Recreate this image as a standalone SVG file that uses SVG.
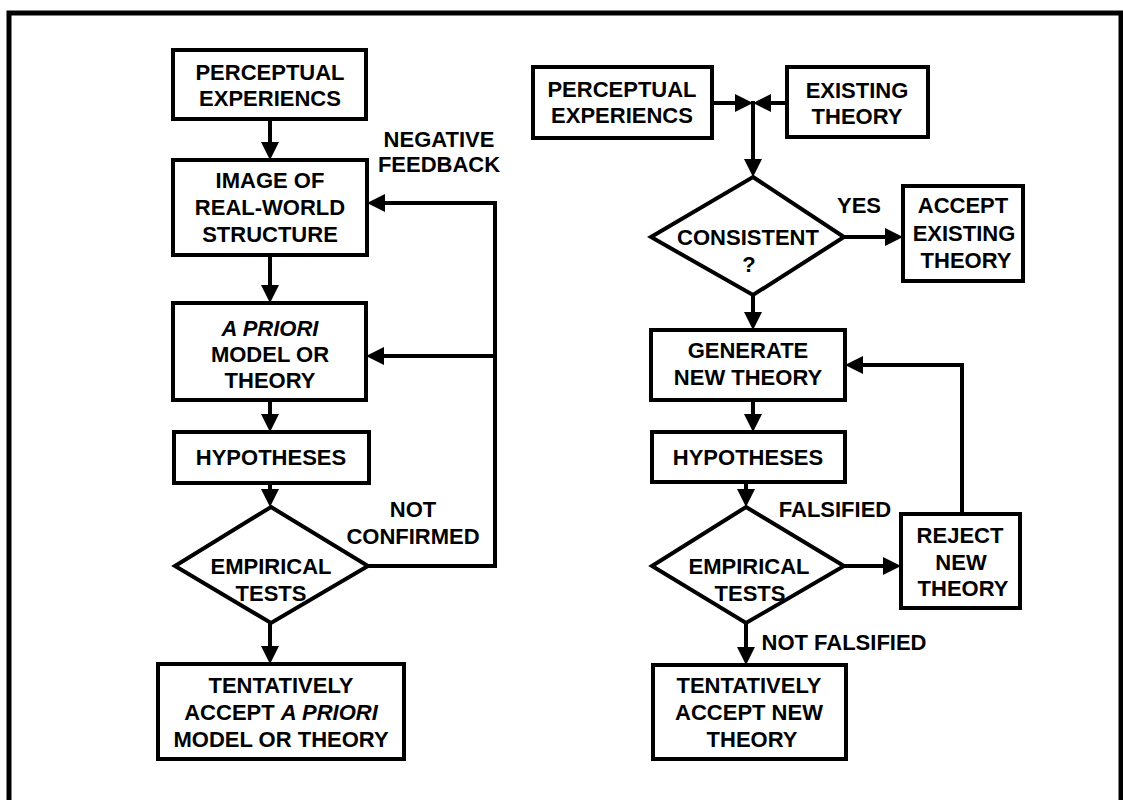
<svg xmlns="http://www.w3.org/2000/svg" width="1123" height="800" viewBox="0 0 1123 800">
<style>
.bx{fill:#fff;stroke:#000;stroke-width:4}
.cn{fill:none;stroke:#000;stroke-width:4}
.fr{fill:none;stroke:#000;stroke-width:5}
text{font-family:"Liberation Sans",Arial,Helvetica,sans-serif;font-weight:bold;font-size:22px;fill:#000;text-anchor:middle}
.it{font-style:italic}
</style>
<defs>
<marker id="ah" markerUnits="userSpaceOnUse" markerWidth="18" markerHeight="18" refX="10" refY="9" orient="auto" viewBox="0 0 18 18">
<path d="M0,0 L18,9 L0,18 z" fill="#000"/>
</marker>
</defs>
<rect width="1123" height="800" fill="#fff"/>
<path class="fr" d="M9,800 V13 H1121 V800"/>

<g id="connectors">
<line class="cn" x1="270" y1="119" x2="270" y2="152" marker-end="url(#ah)"/>
<line class="cn" x1="270" y1="255" x2="270" y2="295" marker-end="url(#ah)"/>
<line class="cn" x1="270" y1="400" x2="270" y2="424" marker-end="url(#ah)"/>
<line class="cn" x1="270" y1="483" x2="270" y2="499" marker-end="url(#ah)"/>
<line class="cn" x1="270" y1="623" x2="270" y2="656" marker-end="url(#ah)"/>
<polyline class="cn" points="368,566 495,566 495,203 375,203" marker-end="url(#ah)"/>
<line class="cn" x1="495" y1="356" x2="374" y2="356" marker-end="url(#ah)"/>

<line class="cn" x1="712" y1="103" x2="745" y2="103" marker-end="url(#ah)"/>
<line class="cn" x1="787" y1="103" x2="761" y2="103" marker-end="url(#ah)"/>
<line class="cn" x1="753" y1="101" x2="753" y2="169" marker-end="url(#ah)"/>
<line class="cn" x1="844" y1="237" x2="895" y2="237" marker-end="url(#ah)"/>
<line class="cn" x1="753" y1="295" x2="753" y2="322" marker-end="url(#ah)"/>
<line class="cn" x1="753" y1="400" x2="753" y2="424" marker-end="url(#ah)"/>
<line class="cn" x1="746" y1="482" x2="746" y2="499" marker-end="url(#ah)"/>
<line class="cn" x1="844" y1="566" x2="893" y2="566" marker-end="url(#ah)"/>
<polyline class="cn" points="962,514 962,365 853,365" marker-end="url(#ah)"/>
<line class="cn" x1="746" y1="623" x2="746" y2="657" marker-end="url(#ah)"/>
</g>

<g id="label-negative-feedback"><text x="439" y="147">NEGATIVE</text><text x="439" y="172">FEEDBACK</text></g>
<g id="label-not-confirmed"><text x="413" y="517">NOT</text><text x="413" y="544">CONFIRMED</text></g>
<g id="label-yes"><text x="859" y="213">YES</text></g>
<g id="label-falsified"><text x="835" y="517">FALSIFIED</text></g>
<g id="label-not-falsified"><text x="844" y="650">NOT FALSIFIED</text></g>

<g id="l-perceptual">
<rect class="bx" x="173" y="50" width="193" height="69"/>
<text x="270" y="80">PERCEPTUAL</text><text x="270" y="106">EXPERIENCS</text>
</g>
<g id="l-image">
<rect class="bx" x="173" y="160" width="194" height="95"/>
<text x="270" y="188">IMAGE OF</text><text x="270" y="215">REAL-WORLD</text><text x="270" y="242">STRUCTURE</text>
</g>
<g id="l-apriori">
<rect class="bx" x="173" y="303" width="193" height="97"/>
<text x="270" y="336" class="it">A PRIORI</text><text x="270" y="362">MODEL OR</text><text x="270" y="388">THEORY</text>
</g>
<g id="l-hypotheses">
<rect class="bx" x="174" y="432" width="195" height="51"/>
<text x="271" y="465">HYPOTHESES</text>
</g>
<g id="l-empirical">
<polygon class="bx" points="271,507 368,566 271,623 175,566"/>
<text x="271" y="574">EMPIRICAL</text><text x="271" y="601">TESTS</text>
</g>
<g id="l-tentative">
<rect class="bx" x="158" y="664" width="246" height="95"/>
<text x="281" y="693">TENTATIVELY</text>
<text x="281" y="720">ACCEPT <tspan class="it">A PRIORI</tspan></text>
<text x="281" y="747">MODEL OR THEORY</text>
</g>

<g id="r-perceptual">
<rect class="bx" x="533" y="67" width="179" height="71"/>
<text x="622" y="97">PERCEPTUAL</text><text x="622" y="123">EXPERIENCS</text>
</g>
<g id="r-existing">
<rect class="bx" x="787" y="67" width="141" height="70"/>
<text x="857" y="98">EXISTING</text><text x="857" y="124">THEORY</text>
</g>
<g id="r-consistent">
<polygon class="bx" points="753,177 844,237 753,295 651,237"/>
<text x="748" y="245">CONSISTENT</text><text x="749" y="272">?</text>
</g>
<g id="r-accept-existing">
<rect class="bx" x="903" y="186" width="120" height="95"/>
<text x="963" y="213">ACCEPT</text><text x="964" y="241">EXISTING</text><text x="966" y="268">THEORY</text>
</g>
<g id="r-generate">
<rect class="bx" x="651" y="330" width="194" height="70"/>
<text x="748" y="358">GENERATE</text><text x="748" y="385">NEW THEORY</text>
</g>
<g id="r-hypotheses">
<rect class="bx" x="652" y="432" width="193" height="50"/>
<text x="748" y="465">HYPOTHESES</text>
</g>
<g id="r-empirical">
<polygon class="bx" points="746,507 844,566 746,623 652,566"/>
<text x="749" y="574">EMPIRICAL</text><text x="750" y="601">TESTS</text>
</g>
<g id="r-reject">
<rect class="bx" x="901" y="514" width="119" height="94"/>
<text x="960" y="543">REJECT</text><text x="961" y="570">NEW</text><text x="963" y="596">THEORY</text>
</g>
<g id="r-tentative">
<rect class="bx" x="653" y="665" width="193" height="94"/>
<text x="749" y="693">TENTATIVELY</text><text x="749" y="720">ACCEPT NEW</text><text x="752" y="747">THEORY</text>
</g>
</svg>
